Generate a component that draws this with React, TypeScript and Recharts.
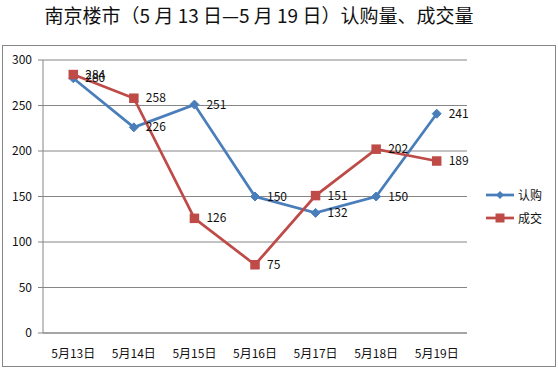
import { LineChart, Line, XAxis, YAxis, CartesianGrid, LabelList } from 'recharts'

const days = ['5月13日', '5月14日', '5月15日', '5月16日', '5月17日', '5月18日', '5月19日']
const subscribed = [280, 226, 251, 150, 132, 150, 241]
const deals = [284, 258, 126, 75, 151, 202, 189]
const yTicks = [0, 50, 100, 150, 200, 250, 300]
const bandEdges = [0, 1, 2, 3, 4, 5, 6, 7]

const BLUE = '#4A7EBB'
const RED = '#BE4B48'
const GRID = '#868686'
const FONT = '"Noto Sans CJK SC", "Liberation Sans", sans-serif'

const data = days.map((day, i) => ({ day, edge: i + 0.5, 认购: subscribed[i], 成交: deals[i] }))

const Diamond = (props: any) => {
  const { cx, cy } = props
  if (cx == null || cy == null) return null
  const r = 4.5
  return <path d={`M${cx},${cy - r}L${cx + r},${cy}L${cx},${cy + r}L${cx - r},${cy}Z`} fill={BLUE} stroke={BLUE} />
}

const Square = (props: any) => {
  const { cx, cy } = props
  if (cx == null || cy == null) return null
  const s = 9.5
  return <rect x={cx - s / 2} y={cy - s / 2} width={s} height={s} fill={RED} />
}

const ValueLabel = (props: any) => {
  const { x, y, value } = props
  return (
    <text x={x + 12} y={y} dy={4} fontSize={12} fill="#111" fontFamily={FONT}>
      {value}
    </text>
  )
}

const legendItems = [
  { name: '认购', color: BLUE, shape: 'diamond' },
  { name: '成交', color: RED, shape: 'square' },
]

export default function App() {
  return (
    <div style={{ position: 'absolute', left: 0, top: 0, width: 558, height: 369, background: '#fff' }}>
      <div
        style={{
          position: 'absolute',
          left: 0,
          top: 2,
          width: 518,
          textAlign: 'center',
          fontFamily: FONT,
          fontSize: 19,
          color: '#111',
          whiteSpace: 'nowrap',
          lineHeight: '26px',
        }}
      >
        南京楼市（5 月 13 日—5 月 19 日）认购量、成交量
      </div>
      <div
        style={{
          position: 'absolute',
          left: 2,
          top: 45,
          width: 552,
          height: 320,
          border: `1px solid ${GRID}`,
        }}
      />
      <div style={{ position: 'absolute', left: 0, top: 0 }}>
        <LineChart width={558} height={369} data={data} margin={{ top: 60, right: 91, bottom: 0, left: 0 }}>
          <CartesianGrid vertical={false} stroke={GRID} />
          <XAxis
            xAxisId="edges"
            dataKey="edge"
            type="number"
            domain={[0, 7]}
            ticks={bandEdges}
            tick={false}
            tickSize={5}
            tickLine={{ stroke: GRID }}
            axisLine={false}
            height={0}
          />
          <XAxis
            dataKey="day"
            scale="band"
            tickLine={false}
            axisLine={{ stroke: GRID }}
            tick={{ fontSize: 12, fill: '#111', fontFamily: FONT }}
            tickMargin={10}
            height={36}
          />
          <YAxis
            domain={[0, 300]}
            ticks={yTicks}
            width={43}
            tickSize={5}
            tickMargin={6}
            tickLine={{ stroke: GRID }}
            axisLine={{ stroke: GRID }}
            tick={{ fontSize: 12, fill: '#111', fontFamily: FONT }}
          />
          <Line
            dataKey="认购"
            stroke={BLUE}
            strokeWidth={2.75}
            dot={<Diamond />}
            activeDot={false}
            isAnimationActive={false}
          >
            <LabelList dataKey="认购" content={<ValueLabel />} />
          </Line>
          <Line
            dataKey="成交"
            stroke={RED}
            strokeWidth={2.75}
            dot={<Square />}
            activeDot={false}
            isAnimationActive={false}
          >
            <LabelList dataKey="成交" content={<ValueLabel />} />
          </Line>
        </LineChart>
      </div>
      <div style={{ position: 'absolute', left: 486, top: 183, fontFamily: FONT, fontSize: 12, color: '#111' }}>
        {legendItems.map((item) => (
          <div key={item.name} style={{ display: 'flex', alignItems: 'center', height: 23 }}>
            <svg width={30} height={12}>
              <line x1={0} y1={6} x2={28} y2={6} stroke={item.color} strokeWidth={2.75} />
              {item.shape === 'diamond' ? (
                <path d="M14,2L18,6L14,10L10,6Z" fill={item.color} />
              ) : (
                <rect x={9.5} y={1.5} width={9} height={9} fill={item.color} />
              )}
            </svg>
            <span style={{ marginLeft: 2 }}>{item.name}</span>
          </div>
        ))}
      </div>
    </div>
  )
}
